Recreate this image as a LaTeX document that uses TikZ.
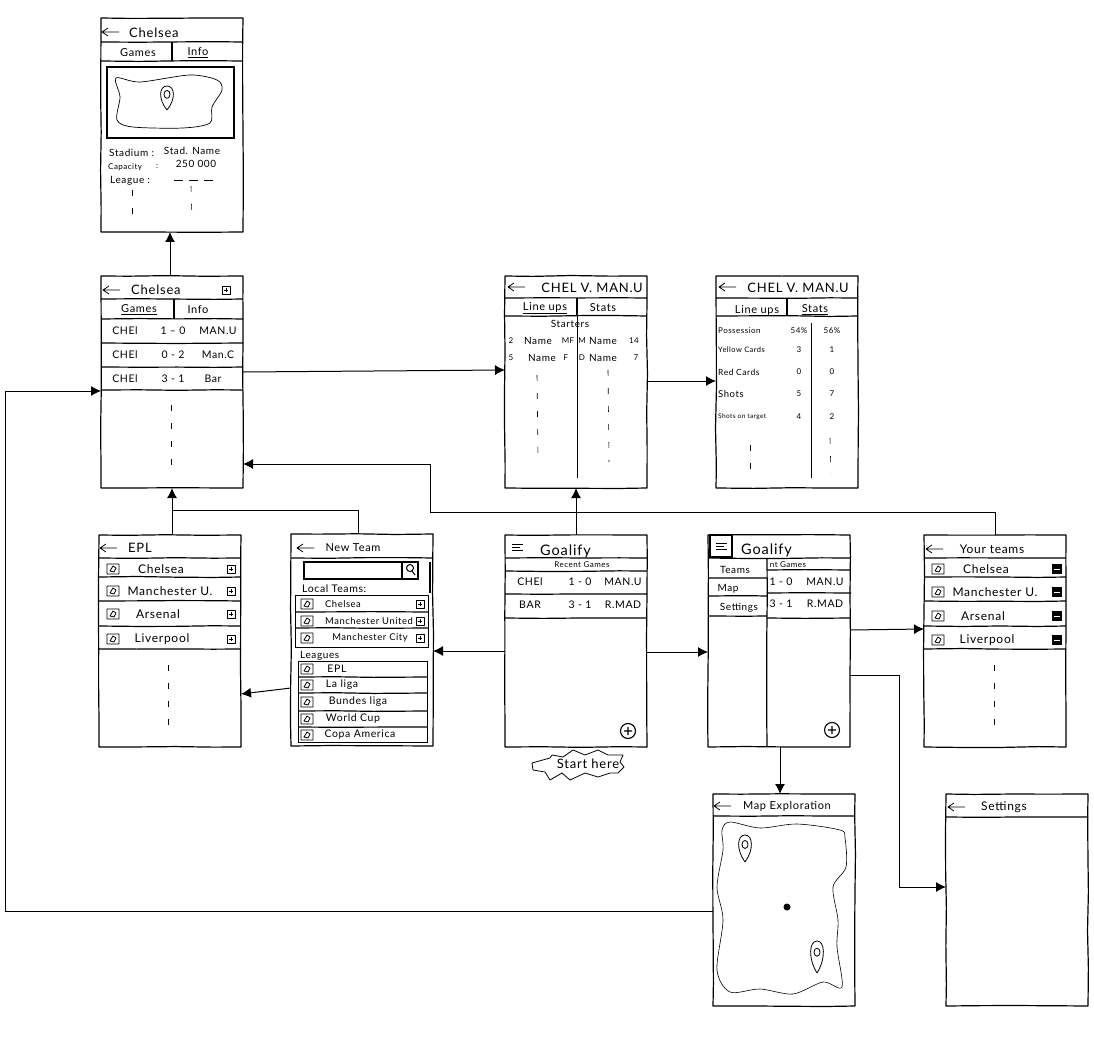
\documentclass[tikz,border=0pt]{standalone}
\usepackage{fontspec}
\setmainfont[LetterSpace=6]{Lato}
\usetikzlibrary{arrows.meta,decorations.pathmorphing}

\tikzset{
  sketch/.style={line width=1.2pt,line join=round,decorate,
    decoration={random steps,segment length=38pt,amplitude=0.5pt}},
  screenbox/.style={draw,sketch,anchor=north west,inner sep=0pt,outer sep=0pt,
    minimum width=142pt,minimum height=212pt},
  rowline/.style={sketch},
  thinline/.style={line width=0.8pt,line join=round},
  vdash/.style={line width=0.6pt,dash pattern=on 6pt off 12pt},
  conn/.style={line width=1pt},
  arr/.style={conn,-{Latex[length=10pt,width=10pt]}},
  lbl/.style={inner sep=0pt,font=\fontsize{10.5}{12}\selectfont},
  small/.style={inner sep=0pt,font=\fontsize{10}{12}\selectfont},
  tab/.style={inner sep=0pt,font=\fontsize{11}{13}\selectfont},
  localtxt/.style={inner sep=0pt,font=\fontsize{9.4}{11}\selectfont},
  leaguetxt/.style={inner sep=0pt,font=\fontsize{10.5}{12}\selectfont},
  tiny/.style={inner sep=0pt,font=\fontsize{8}{10}\selectfont},
  title/.style={inner sep=0pt,font=\fontsize{13}{15}\selectfont},
  subtitle/.style={inner sep=0pt,font=\fontsize{12}{14}\selectfont}
}
\newcommand\backarw[2]{\draw[thinline] (#1+17,#2) -- (#1,#2) (#1+6,#2-4) -- (#1,#2) -- (#1+6,#2+4);}
\newcommand\burger[2]{\draw[thinline] (#1,#2) -- ++(11,0) (#1,#2+3) -- ++(8,0) (#1,#2+6) -- ++(11,0);}
\newcommand\crest[2]{\draw[thinline] (#1-6,#2-5) rectangle (#1+6,#2+5) (#1-3,#2+2) -- (#1,#2-3) -- (#1+3,#2-1) -- (#1+1,#2+3) -- cycle;}
\newcommand\plusbtn[2]{\draw[thinline] (#1-4,#2-4) rectangle (#1+4,#2+4) (#1-2,#2) -- (#1+2,#2) (#1,#2-2) -- (#1,#2+2);}
\newcommand\minusbtn[2]{\fill (#1-5,#2-5) rectangle (#1+5,#2+5); \draw[white,line width=1pt] (#1-3,#2) -- (#1+3,#2);}
\newcommand\addcircle[2]{\draw[line width=1.1pt] (#1,#2) circle (7.5pt) (#1-4,#2) -- (#1+4,#2) (#1,#2-4) -- (#1,#2+4);}
\newcommand\mappin[3]{\draw[thinline] (#1,#2) .. controls (#1-9,#2-#3*0.45) and (#1-8,#2-#3) .. (#1,#2-#3) .. controls (#1+8,#2-#3) and (#1+9,#2-#3*0.45) .. (#1,#2) (#1,#2-#3*0.65) ellipse (3pt and 4pt);}

\begin{document}
\begin{tikzpicture}[x=1pt,y=-1pt]
  \useasboundingbox (0,0) rectangle (1094,1064);
  \pgfmathsetseed{11}

  % stadium info
  \node[screenbox,minimum height=214pt] (info) at (101,18) {};
  \foreach \y in {42,61} \draw[rowline] (101,\y) -- ++(141,0);
  \draw[rowline] (172,42) -- (172,61);
  \backarw{102}{32}
  \node[title,anchor=west] (infotitle) at (129,33) {Chelsea};
  \node[tab] (infogames) at (138,53) {Games};
  \node[tab] (infoinfo) at (198,53) {\underline{Info}};
  \draw[line width=1.1pt] (107,67) rectangle (234,138);
  \draw[line width=0.7pt] plot[smooth cycle] coordinates {(116,78) (140,82) (190,75) (217,80) (222,90) (212,107) (210,123) (183,128) (133,127) (117,120) (120,97)};
  \mappin{167}{110}{24}
  \node[small,anchor=west] (infostadium) at (109,153) {Stadium :};
  \node[small] (infostadname) at (192,151) {Stad. Name};
  \node[tiny,anchor=west] (infocapacity) at (108,167) {Capacity};
  \node[tiny] (infocolon) at (157,167) {:};
  \node[small] (infoseats) at (196,164) {250 000};
  \node[small,anchor=west] (infoleague) at (110,181) {League :};
  \draw[thinline,dash pattern=on 9pt off 6pt] (174,180) -- (215,180);
  \draw[vdash] (132,190) -- (132,220);
  \draw[vdash] (191,186) -- (192,220);

  % team games
  \node[screenbox] (games) at (101,276) {};
  \foreach \y in {299,319,343,367,390} \draw[rowline] (101,\y) -- ++(142,0);
  \draw[rowline] (174,299) -- (174,319);
  \backarw{103}{290}
  \node[title,anchor=west] (gamestitle) at (131,290) {Chelsea};
  \plusbtn{226}{290}
  \node[tab] (gamesgames) at (139,310) {\underline{Games}};
  \node[tab] (gamesinfo) at (198,310) {Info};
  \foreach \i/\y/\score/\other/\ox in {a/331/1 -- 0/MAN.U/218,b/355/0 - 2/Man.C/218,c/379/3 - 1/Bar/213}{
    \node[lbl] (gameshome\i) at (125,\y) {CHEl};
    \node[lbl] (gamesscore\i) at (173,\y) {\score};
    \node[lbl] (gamesother\i) at (\ox,\y) {\other};
  }
  \draw[vdash] (171,405) -- (171,468);

  % lineups
  \node[screenbox] (lineups) at (505,276) {};
  \foreach \y in {298,316} \draw[rowline] (505,\y) -- ++(142,0);
  \draw[rowline] (577,298) -- (577,316);
  \draw[thinline] (577,316) -- (577,478);
  \backarw{508}{287}
  \node[title] (lineupstitle) at (592,288) {CHEL V. MAN.U};
  \node[tab] (lineupstaba) at (545,308) {\underline{Line ups}};
  \node[tab] (lineupstabb) at (603,308) {Stats};
  \node[small] (starters) at (570,324) {Starters};
  \node[tiny] (pa) at (511,341) {2};
  \node[small] (pb) at (538,341) {Name};
  \node[tiny] (pc) at (568,341) {MF};
  \node[tiny] (pd) at (582,341) {M};
  \node[small] (pe) at (603,341) {Name};
  \node[tiny] (pf) at (634,341) {14};
  \node[tiny] (qa) at (511,358) {5};
  \node[small] (qb) at (542,358) {Name};
  \node[tiny] (qc) at (566,358) {F};
  \node[tiny] (qd) at (582,358) {D};
  \node[small] (qe) at (603,358) {Name};
  \node[tiny] (qf) at (636,358) {7};
  \draw[vdash] (537,375) -- (538,458);
  \draw[vdash] (608,370) -- (609,462);

  % stats
  \node[screenbox] (stats) at (716,276) {};
  \foreach \y in {298,316} \draw[rowline] (716,\y) -- ++(142,0);
  \draw[rowline] (787,298) -- (787,316);
  \draw[thinline] (811,323) -- (811,478);
  \backarw{719}{287}
  \node[title] (statstitle) at (798,288) {CHEL V. MAN.U};
  \node[tab] (statstaba) at (757,310) {Line ups};
  \node[tab] (statstabb) at (815,310) {\underline{Stats}};
  \foreach \i/\y/\fs/\txt/\va/\vb in {a/331/8/Possession/54\%/56\%,b/350/7.5/Yellow Cards/3/1,c/372/8.5/Red Cards/0/0,d/394/9.5/Shots/5/7,e/417/6.5/Shots on target/4/2}{
    \node[tiny,anchor=west,font=\fontsize{\fs}{10}\selectfont] (stat\i) at (718,\y) {\txt};
    \node[tiny] (stat\i home) at (799,\y) {\va};
    \node[tiny] (stat\i away) at (832,\y) {\vb};
  }
  \draw[vdash] (750,445) -- (750,475);
  \draw[vdash] (830,438) -- (831,474);

  % league
  \node[screenbox] (epl) at (99,535) {};
  \foreach \y in {558,577,601,626,649} \draw[rowline] (99,\y) -- ++(142,0);
  \backarw{100}{548}
  \node[title,anchor=west] (epltitle) at (128,548) {EPL};
  \foreach \i/\y/\cx/\txt in {a/569/161/Chelsea,b/591/170/Manchester U.,c/614/158/Arsenal,d/639/162/Liverpool}{
    \crest{113}{\y}
    \node[subtitle] (eplteam\i) at (\cx,\y) {\txt};
    \plusbtn{231}{\y}
  }
  \draw[vdash] (168,665) -- (168,725);

  % new team
  \node[screenbox] (newteam) at (291,534) {};
  \draw[rowline] (291,558) -- ++(142,0);
  \backarw{297}{548}
  \node[tab] (newteamtitle) at (353,548) {New Team};
  \draw[line width=1.2pt] (304,562) rectangle (418,579) (402,562) -- (402,579);
  \draw[line width=1pt] (410,568) circle (3.5pt) (412,571) -- (415,575);
  \draw[line width=1.6pt] (430,562) -- (430,593);
  \node[leaguetxt,anchor=west] (localteams) at (302,589) {Local Teams:};
  \draw[line width=1pt] (295,595) rectangle (428,647);
  \foreach \y in {612,628} \draw[rowline] (295,\y) -- ++(133,0);
  \foreach \i/\y/\cx/\txt in {a/604/343/Chelsea,b/621/369/Manchester United,c/638/370/Manchester City}{
    \crest{307}{\y}
    \node[localtxt] (local\i) at (\cx,\y) {\txt};
    \plusbtn{420}{\y}
  }
  \node[small,anchor=west] (leagues) at (300,656) {Leagues};
  \draw[line width=1pt] (298,661) rectangle (427,742);
  \foreach \y in {677,693,711,727} \draw[rowline] (298,\y) -- ++(129,0);
  \foreach \i/\y/\cx/\txt in {a/669/337/EPL,b/685/342/La liga,c/702/358/Bundes liga,d/719/353/World Cup,e/735/360/Copa America}{
    \crest{307}{\y}
    \node[leaguetxt] (league\i) at (\cx,\y) {\txt};
  }

  % home
  \node[screenbox] (goalify) at (505,535) {};
  \foreach \y in {558,571,594,618} \draw[rowline] (505,\y) -- ++(142,0);
  \burger{512}{544}
  \node[title,anchor=west,font=\fontsize{14.5}{16}\selectfont] (goalifytitle) at (540,551) {Goalify};
  \node[tiny] (recent) at (582,565) {Recent Games};
  \node[lbl] (homea) at (530,582) {CHEl};
  \node[lbl] (scorea) at (580,582) {1 - 0};
  \node[lbl] (awaya) at (623,582) {MAN.U};
  \node[lbl] (homeb) at (530,605) {BAR};
  \node[lbl] (scoreb) at (580,605) {3 - 1};
  \node[lbl] (awayb) at (623,605) {R.MAD};
  \addcircle{628}{731}
  % start marker
  \draw[thinline] (532,763) -- (550,758) -- (552,755) -- (563,757) -- (573,750) -- (585,755) -- (598,750) -- (608,755) -- (623,755) -- (620,762) -- (624,767) -- (618,773) -- (610,773) -- (598,777) -- (585,773) -- (570,780) -- (562,773) -- (550,780) -- (545,772) -- (533,770) -- cycle;
  \node[inner sep=0pt,font=\fontsize{13}{15}\selectfont] (starthere) at (588,764) {Start here};

  % home with open menu
  \node[screenbox] (menu) at (708,535) {};
  \draw[rowline] (708,558) -- ++(143,0);
  \draw[line width=1.5pt] (710,535) rectangle (732,557);
  \burger{716}{543}
  \node[title,anchor=west,font=\fontsize{14.5}{16}\selectfont] (menutitle) at (741,550) {Goalify};
  \draw[rowline] (767,558) -- (767,746);
  \foreach \y in {578,596,616} \draw[rowline] (708,\y) -- ++(59,0);
  \foreach \y in {570,593,618} \draw[rowline] (767,\y) -- ++(84,0);
  \node[small] (menuteams) at (735,570) {Teams};
  \node[small] (menumap) at (728,589) {Map};
  \node[small] (menusettings) at (739,608) {Settings};
  \node[tiny] (menurecent) at (788,565) {nt Games};
  \node[lbl] (menuscorea) at (781,582) {1 - 0};
  \node[lbl] (menuawaya) at (825,582) {MAN.U};
  \node[lbl] (menuscoreb) at (781,604) {3 - 1};
  \node[lbl] (menuawayb) at (825,604) {R.MAD};
  \addcircle{832}{730}

  % your teams
  \node[screenbox] (yourteams) at (924,535) {};
  \foreach \y in {558,577,601,626,649} \draw[rowline] (924,\y) -- ++(142,0);
  \backarw{926}{549}
  \node[subtitle] (yourtitle) at (992,549) {Your teams};
  \foreach \i/\y/\cx/\txt in {a/569/986/Chelsea,b/592/995/Manchester U.,c/616/983/Arsenal,d/640/987/Liverpool}{
    \crest{938}{\y}
    \node[subtitle] (yourteam\i) at (\cx,\y) {\txt};
    \minusbtn{1057}{\y}
  }
  \draw[vdash] (994,665) -- (994,725);

  % map
  \node[screenbox] (map) at (713,794) {};
  \draw[rowline] (713,816) -- ++(142,0);
  \backarw{714}{806}
  \node[tab] (maptitle) at (787,806) {Map Exploration};
  \draw[line width=0.6pt] plot[smooth cycle] coordinates {(722,830) (730,822) (760,828) (797,824) (840,830) (845,838) (846,867) (833,887) (838,920) (837,947) (842,987) (823,982) (793,994) (760,989) (730,992) (717,970) (723,920) (717,887) (723,850)};
  \mappin{745}{862}{27}
  \mappin{817}{973}{32}
  \fill (787,907) circle (3.5pt);

  % settings
  \node[screenbox] (settings) at (946,794) {};
  \draw[rowline] (946,817) -- ++(142,0);
  \backarw{948}{807}
  \node[subtitle] (settingstitle) at (1004,807) {Settings};

  % connectors
  \coordinate (eplmerge) at (172,510);
  \coordinate (yourbend) at (430,512);
  \coordinate (mapbend) at (5,391);
  \coordinate (settingsbend) at (899,887);
  \draw[arr] (games.north -| 170,0) -- (info.south -| 170,0);
  \draw[arr] (games.east |- 0,372) -- (lineups.west |- 0,370);
  \draw[arr] (lineups.east |- 0,381) -- (stats.west |- 0,381);
  \draw[arr] (goalify.north) -- (lineups.south);
  \draw[arr] (yourteams.north) |- (yourbend) |- (games.east |- 0,464);
  \draw[arr] (epl.north -| eplmerge) -- (games.south -| eplmerge);
  \draw[conn] (newteam.north -| 358,0) |- (eplmerge);
  \draw[arr] (goalify.west |- 0,651) -- (newteam.east |- 0,651);
  \draw[arr] (newteam.west |- 0,688) -- (epl.east |- 0,694);
  \draw[arr] (goalify.east |- 0,652) -- (menu.west |- 0,652);
  \draw[arr] (menu.east |- 0,630) -- (yourteams.west |- 0,629);
  \draw[arr] (menu.south -| 780,0) -- (map.north -| 780,0);
  \draw[arr] (menu.east |- 0,675) -| (settingsbend) -- (settings.west |- settingsbend);
  \draw[arr] (map.west |- 0,911) -| (mapbend) -- (games.west |- mapbend);
\end{tikzpicture}
\end{document}
